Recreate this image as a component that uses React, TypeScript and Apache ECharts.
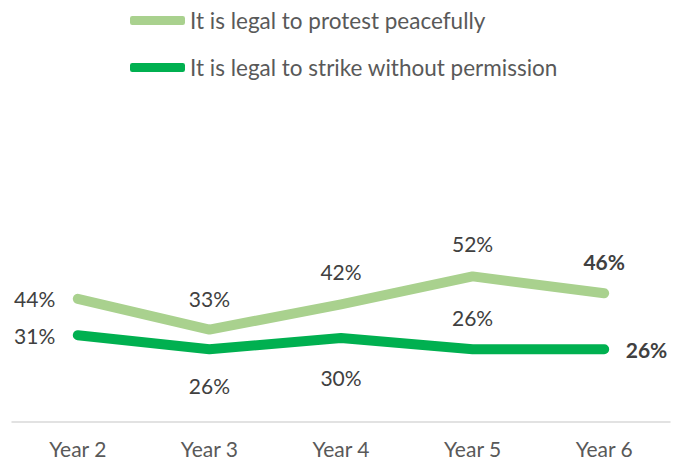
import React, { useEffect, useRef } from "react";
import * as echarts from "echarts";

const categories = ["Year 2", "Year 3", "Year 4", "Year 5", "Year 6"];
const protestValues = [44, 33, 42, 52, 46];
const strikeValues = [31, 26, 30, 26, 26];
const seriesNames = ["It is legal to protest peacefully", "It is legal to strike without permission"];

const protestLabelPos = ["left", "top", "top", "top", "top"];
const strikeLabelPos = ["left", "bottom", "bottom", "top", "right"];
const protestLabelDist = [22, 20, 22, 22, 21];
const strikeLabelDist = [22, 25, 28, 21, 21];

const FONT = "Lato, 'Open Sans', sans-serif";

export default function App() {
  const ref = useRef<HTMLDivElement>(null);
  useEffect(() => {
    if (!ref.current) return;
    const chart = echarts.init(ref.current, undefined, { renderer: "svg" });
    const mk = (vals: number[], pos: string[], dist: number[]) =>
      vals.map((v, i) => ({
        value: v,
        label: {
          position: pos[i],
          distance: dist[i],
          fontWeight: i === vals.length - 1 ? "bold" : "normal",
        },
      }));
    const labelStyle = { show: true, formatter: "{c}%", fontFamily: FONT, fontSize: 21, color: "#404040" };
    chart.setOption({
      animation: false,
      backgroundColor: "#ffffff",
      legend: {
        orient: "vertical",
        left: 130,
        top: 9,
        padding: 0,
        itemGap: 24,
        itemWidth: 55,
        itemHeight: 9,
        icon: "roundRect",
        textStyle: { fontFamily: FONT, fontSize: 22.5, color: "#595959" },
        data: seriesNames,
      },
      grid: { left: 12, right: 13, top: 142, bottom: 40, containLabel: false, outerBoundsMode: "none" },
      xAxis: {
        type: "category",
        data: categories,
        boundaryGap: true,
        axisLine: { lineStyle: { color: "#D9D9D9", width: 1.5 } },
        axisTick: { show: false },
        axisLabel: { fontFamily: FONT, fontSize: 21, lineHeight: 18, color: "#595959", margin: 17 },
      },
      yAxis: {
        type: "value",
        min: 0,
        max: 100,
        show: false,
        splitLine: { show: false },
      },
      series: [
        {
          name: seriesNames[0],
          type: "line",
          data: mk(protestValues, protestLabelPos, protestLabelDist),
          symbol: "circle",
          symbolSize: 1,
          showSymbol: true,
          lineStyle: { color: "#A9D18E", width: 10, cap: "round", join: "round" },
          itemStyle: { color: "#A9D18E" },
          label: labelStyle,
        },
        {
          name: seriesNames[1],
          type: "line",
          data: mk(strikeValues, strikeLabelPos, strikeLabelDist),
          symbol: "circle",
          symbolSize: 1,
          showSymbol: true,
          lineStyle: { color: "#00B050", width: 10, cap: "round", join: "round" },
          itemStyle: { color: "#00B050" },
          label: labelStyle,
        },
      ],
    });
    return () => chart.dispose();
  }, []);
  return <div ref={ref} style={{ position: "absolute", left: 0, top: 0, width: 683, height: 462 }} />;
}
